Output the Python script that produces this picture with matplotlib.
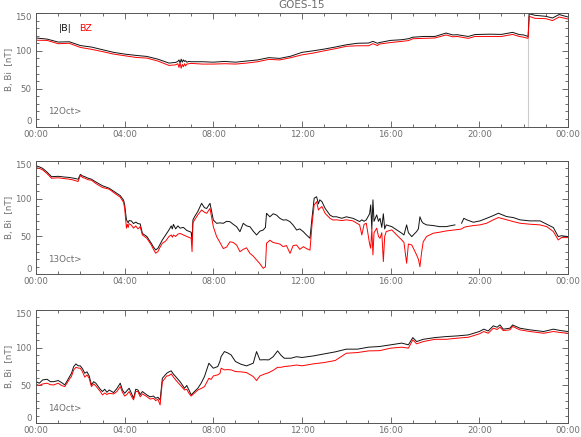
import numpy as np
import matplotlib
matplotlib.use("Agg")
import matplotlib.pyplot as plt
from matplotlib.ticker import MultipleLocator

# ---------------- DATA ----------------
# hours since 00:00 and field values in nT
day_labels = ["12Oct>", "13Oct>", "14Oct>"]
tick_labels = ["00:00", "04:00", "08:00", "12:00", "16:00", "20:00", "00:00"]

t12 = [0, 0.5, 1.0, 1.5, 2.0, 2.5, 3.0, 3.5, 4.0, 4.5,
       5.0, 5.5, 6.0, 6.3, 6.4, 6.45, 6.5, 6.55, 6.6, 6.65,
       6.7, 6.75, 6.8, 6.9, 7.0, 7.5, 8.0, 8.5, 9.0, 9.5,
       10.0, 10.5, 11.0, 11.5, 12.0, 12.5, 13.0, 13.5, 14.0, 14.5,
       15.0, 15.2, 15.4, 15.5, 16.0, 16.5, 16.8, 17.0, 17.5, 18.0,
       18.5, 18.8, 19.0, 19.5, 19.8, 20.0, 20.5, 21.0, 21.5, 21.8,
       22.0, 22.2, 22.25, 22.5, 23.0, 23.3, 23.6, 24.0]
b12 = [117, 115.5, 111.6, 112, 107, 105, 101.5, 98, 95.7, 94,
       92.6, 89, 83.8, 84.7, 86, 88, 84, 89, 85, 88,
       86, 87, 85, 86, 85.6, 85.6, 85, 86, 85, 86.5,
       88, 91, 90, 93, 98, 100, 102.3, 105, 108, 110,
       110.3, 112.5, 110, 111, 113.8, 114.7, 116, 118, 119, 119,
       123.5, 121, 121.3, 119, 121.5, 121.7, 122, 121.7, 124.4, 121.5,
       121, 119, 149, 147, 145.6, 143.4, 148, 144.7]
bz12 = [114, 113.8, 109.4, 110, 104.5, 102, 99, 95.7, 93.5, 91.3,
        90.4, 86.5, 80.7, 81.5, 83, 78, 84, 77, 82, 79,
        83, 80, 82.5, 83, 83.4, 82.5, 82.5, 83, 82.5, 83.8,
        85.6, 88.7, 88, 91, 94.7, 97, 100, 102.8, 106, 106.7,
        106.7, 109.5, 107, 109, 111, 112.5, 113.5, 116, 116.5, 117,
        121, 118.5, 119, 116.5, 119, 119, 119, 119, 121.7, 119,
        118, 116.5, 145.6, 143, 142.5, 140, 144.7, 142]

t13 = [0.0, 0.15, 0.3, 0.5, 0.7, 1.0, 1.3, 1.5, 1.7, 1.9,
       2.0, 2.1, 2.2, 2.35, 2.5, 2.7, 3.0, 3.3, 3.6, 3.8,
       3.95, 4.0, 4.08, 4.12, 4.16, 4.2, 4.3, 4.4, 4.5, 4.6,
       4.7, 4.8, 5.0, 5.2, 5.3, 5.4, 5.5, 5.6, 5.7, 5.85,
       6.0, 6.1, 6.15, 6.2, 6.3, 6.4, 6.5, 6.65, 6.8, 7.0,
       7.04, 7.08, 7.15, 7.3, 7.47, 7.6, 7.7, 7.85, 8.0, 8.15,
       8.3, 8.45, 8.6, 8.75, 8.9, 9.05, 9.2, 9.35, 9.5, 9.65,
       9.8, 9.95, 10.1, 10.25, 10.35, 10.4, 10.55, 10.7, 10.85, 11.0,
       11.15, 11.3, 11.46, 11.6, 11.76, 11.9, 12.06, 12.2, 12.36, 12.45,
       12.55, 12.66, 12.74, 12.8, 12.9, 13.04, 13.26, 13.4, 13.56, 13.8,
       14.0, 14.3, 14.6, 14.7, 14.8, 14.9, 15.05, 15.1, 15.15, 15.2,
       15.25, 15.37, 15.45, 15.52, 15.6, 15.67, 15.73, 15.8, 16.05, 16.27,
       16.5, 16.6, 16.72, 16.8, 16.95, 17.17, 17.25, 17.32, 17.4, 17.47,
       17.62, 17.92, 18.2, 18.5, 18.9, 19.0, 19.13, 19.2, 19.3, 19.43,
       19.73, 20.03, 20.33, 20.63, 20.86, 21.23, 21.53, 21.83, 22.28, 22.74,
       23.04, 23.34, 23.56, 23.7, 24.0]
b13 = [143.4, 142, 140, 135, 129, 129.5, 128.5, 128, 127, 125.7,
       132, 130, 129, 127, 125.7, 122, 117, 113.8, 108, 104,
       98, 91.7, 72, 70, 68, 71, 70.6, 67, 69, 67,
       66.6, 54, 50, 41, 36, 32.2, 34.4, 40, 45.4, 52,
       58.7, 64, 60, 66, 60, 64, 61, 62, 58, 55.6,
       45, 72, 76, 83, 93.8, 88, 87, 93.8, 71.7, 67.4,
       68, 67.4, 70, 69.5, 66, 62.9, 56.3, 67.4, 64, 62.9,
       57, 52, 57, 58.5, 62, 80.6, 76, 80, 78.3, 74,
       71.7, 72, 69.5, 65, 58.5, 60, 56.3, 52, 47.6, 74,
       100.6, 102.5, 93, 98.4, 96, 87.3, 78.3, 76, 76, 74,
       76, 74, 69.7, 72, 70, 72, 80, 91.7, 60, 98.4,
       70, 78.5, 70, 74, 62, 80, 60, 65.3, 63, 58.7,
       54.3, 52, 65.3, 55, 49.8, 56.5, 60, 76, 70, 67.5,
       65.3, 64.4, 63, 63, 65.3, np.nan, np.nan, 67.5, 74, 72,
       68.8, 70.6, 74, 77.6, 80.7, 76.3, 75, 72, 70.6, 70.6,
       66.2, 61.8, 49.8, 51, 49.8]
bz13 = [141, 140, 138, 133, 127, 127.5, 126.5, 125.7, 124.5, 122.6,
        130.6, 128, 127, 125, 124.4, 120, 114.7, 112.5, 106, 102,
        95, 87, 61, 66, 62, 67, 65, 61, 64, 60,
        63, 52, 47.6, 38.8, 33, 27.8, 30, 36, 41, 44,
        50, 52, 49, 52, 50, 53, 54, 52, 50, 47.6,
        30, 68, 71.7, 78.5, 85, 82, 80.6, 87, 62.9, 49.7,
        42, 34, 36, 43, 42, 38.7, 29.9, 33, 35, 27.7,
        24, 18.9, 14, 7.9, 10, 41, 45, 42, 41, 40,
        36.5, 38, 27.7, 38, 38.7, 33, 36.5, 34, 32, 65,
        91.7, 96, 85, 87, 89.5, 80.7, 74, 71.7, 72, 71,
        72, 70.6, 65.3, 52, 66, 67.5, 40, 34.4, 60, 25.6,
        55, 61, 50, 47.6, 55, 16.8, 50, 56.5, 58.7, 52,
        45.4, 42, 14.6, 40, 38.8, 25.6, 20, 10, 30, 43,
        50, 54.3, 55.6, 57.3, 58.7, 59, 59.5, 60, 62, 63,
        64.4, 65.3, 67.5, 72, 75, 72, 69.7, 67.5, 66.2, 65.3,
        63, 56.5, 45.4, 48.5, 48.5]

t14 = [0.0, 0.15, 0.3, 0.5, 0.65, 0.8, 1.0, 1.15, 1.3, 1.5,
       1.6, 1.7, 1.8, 1.9, 2.0, 2.1, 2.2, 2.3, 2.4, 2.5,
       2.6, 2.7, 2.9, 3.0, 3.1, 3.2, 3.3, 3.5, 3.65, 3.8,
       3.9, 4.0, 4.1, 4.2, 4.3, 4.4, 4.5, 4.6, 4.7, 4.8,
       5.0, 5.15, 5.3, 5.4, 5.5, 5.6, 5.65, 5.7, 5.9, 6.0,
       6.1, 6.2, 6.3, 6.5, 6.7, 6.8, 6.9, 7.0, 7.15, 7.3,
       7.45, 7.6, 7.8, 7.9, 8.0, 8.2, 8.3, 8.35, 8.5, 8.65,
       8.8, 9.0, 9.25, 9.5, 9.8, 9.95, 10.1, 10.3, 10.5, 10.7,
       10.9, 11.05, 11.2, 11.5, 11.75, 12.0, 12.5, 13.0, 13.5, 14.0,
       14.5, 15.0, 15.5, 16.0, 16.5, 16.8, 17.0, 17.17, 17.47, 18.0,
       18.5, 19.0, 19.5, 20.0, 20.2, 20.4, 20.63, 20.8, 20.93, 21.08,
       21.38, 21.5, 21.83, 22.28, 22.9, 23.34, 23.65, 24.0]
b14 = [55, 53, 57.3, 58.2, 55, 55, 56.5, 54, 50.7, 61,
       66, 75, 78.5, 76, 75.9, 72, 66.2, 68, 62.6, 50.7,
       55, 53, 45, 42, 45, 41, 44, 40.6, 46, 53,
       44, 39.7, 43, 46.3, 40, 33, 45, 44, 38, 42,
       37.5, 35, 36, 33, 34.4, 31, 45, 59.5, 66.2, 68,
       69.3, 65, 61.8, 55, 46.3, 50, 44, 37.5, 42, 46.3,
       53, 61.8, 79.4, 76, 72.8, 75, 82, 88.2, 94.8, 93,
       90.4, 81.6, 78, 75.9, 79.4, 94.8, 83.8, 84, 83.8, 88,
       95.7, 90, 86, 86, 88, 87, 89, 91.7, 94.4, 98,
       98, 100.6, 101.5, 103.7, 106, 103.7, 113.3, 108, 111, 113.3,
       114.6, 115.5, 116.8, 121.3, 124.4, 122, 128.8, 127, 130, 124.4,
       125.7, 130, 125.7, 123.5, 121.3, 124.4, 122.6, 121.3]
bz14 = [51.6, 50, 52, 53, 51, 50.7, 53, 50, 48.5, 58,
        62, 70.6, 74, 73, 72.8, 68, 61, 64, 59.5, 48.5,
        52, 49.4, 42, 37.5, 40, 38, 39.7, 38.8, 42, 48.5,
        41, 36, 38, 42, 36, 31, 42, 42, 35, 38.8,
        35.3, 32, 33, 30, 31.8, 24.3, 40, 55, 62.6, 63,
        65.3, 61, 57.3, 50.7, 44, 45, 39.7, 36, 40, 44,
        46, 48.5, 59.5, 58, 62.6, 64, 66, 72.8, 70.6, 71,
        70.6, 68.4, 68, 67, 61.8, 56.5, 62.6, 65, 67, 70,
        74, 74, 75, 75.9, 77, 76, 78.5, 80.3, 83, 92.6,
        93.5, 95.7, 96, 99.3, 100.6, 99.3, 110.3, 105, 108, 111,
        111, 112.5, 113.7, 118.2, 121.3, 119, 125.7, 124, 127, 122.6,
        123.5, 128, 123.5, 121.3, 119, 121.3, 120, 119]

times = [t12, t13, t14]
btot = [b12, b13, b14]
bz = [bz12, bz13, bz14]

# ---------------- FIGURE ----------------
plt.rcParams["font.family"] = "DejaVu Sans"
grey = "#6e6e6e"
axis_grey = "#555555"

fig = plt.figure(figsize=(5.81, 4.37), dpi=100)

W, H = 581.0, 437.0
left = 36 / W
width = 532 / W
height = 113.5 / H
bottoms = [(H - 126.5) / H, (H - 274.3) / H, (H - 423.3) / H]

axes = []
for i in range(3):
    ax = fig.add_axes([left, bottoms[i], width, height])
    ax.plot(times[i], btot[i], color="#111111", lw=0.7)
    ax.plot(times[i], bz[i], color="#ff0000", lw=0.7)

    ax.set_xlim(0, 24)
    ax.set_ylim(0, 150)
    ax.set_xticks(range(0, 25, 4))
    ax.set_xticklabels(tick_labels)
    ax.xaxis.set_minor_locator(MultipleLocator(1))
    ax.set_yticks([0, 50, 100, 150])
    ax.yaxis.set_minor_locator(MultipleLocator(10))

    ax.tick_params(which="both", direction="in", top=True, right=True,
                   colors=axis_grey, labelcolor=grey, labelsize=6.2, width=0.6)
    ax.tick_params(which="major", length=4.5)
    ax.tick_params(which="minor", length=2.2)
    ax.tick_params(axis="x", pad=2.2)
    ax.tick_params(axis="y", pad=3)

    # IDL style: end labels sit inside the axis range
    ylabs = ax.get_yticklabels()
    ylabs[0].set_va("bottom")
    ylabs[-1].set_va("top")

    for s in ax.spines.values():
        s.set_color(axis_grey)
        s.set_linewidth(0.7)

    ax.text(0.023, 0.13, day_labels[i], transform=ax.transAxes,
            fontsize=6.3, color=grey, va="center", ha="left")

    yc = bottoms[i] + height / 2
    fig.text(10 / W, yc, "B, Bi  [nT]", rotation=90, fontsize=6.3,
             color=grey, va="center", ha="center")
    axes.append(ax)

# data gap / eclipse marker on the first day
axes[0].axvline(22.2, color="#cccccc", lw=0.8, zorder=0)

# legend text
axes[0].text(0.043, 0.86, "|B|", transform=axes[0].transAxes,
             fontsize=6.8, color="#111111", va="center", ha="left")
axes[0].text(0.081, 0.86, "BZ", transform=axes[0].transAxes,
             fontsize=6.8, color="#ff0000", va="center", ha="left")

fig.text(302 / W, 1 - 5 / H, "GOES-15", fontsize=7.5, color=grey,
         va="center", ha="center")

fig.savefig("out.png", dpi=100)
